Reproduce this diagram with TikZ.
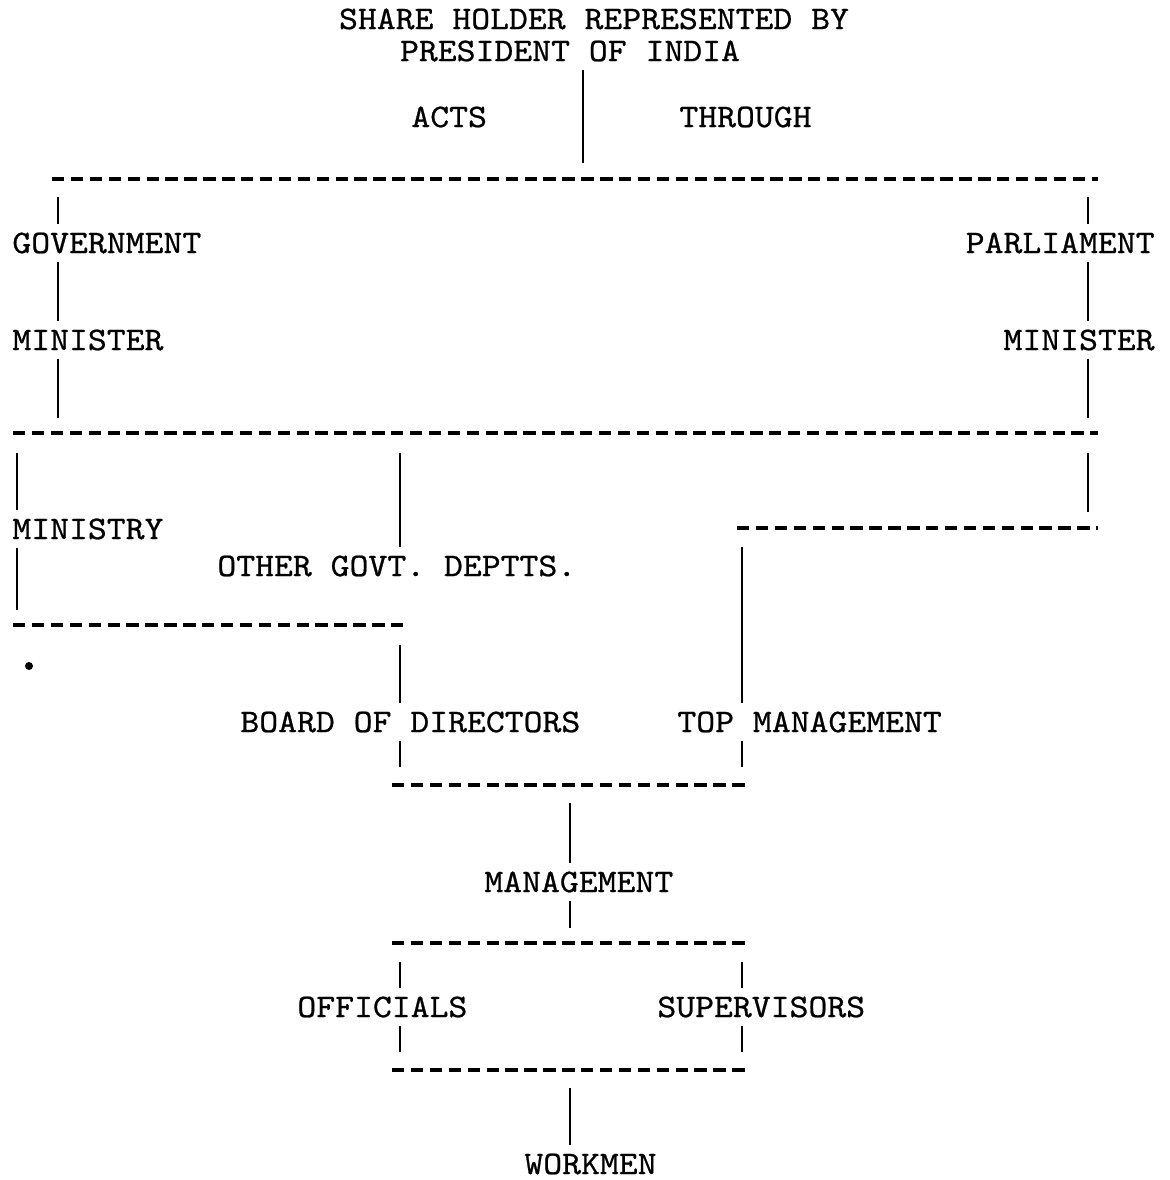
\documentclass[tikz,border=0pt]{standalone}
\usepackage{fontspec}
\newfontfamily\tw{lmmono10-regular.otf}[FakeStretch=1.09,FakeBold=0.7]
\begin{document}
\begin{tikzpicture}[x=0.5pt,y=-0.5pt]
\tikzset{
  lbl/.style={font=\tw\fontsize{16.5pt}{19pt}\selectfont, inner xsep=0pt, inner ysep=4pt},
  bus/.style={line width=2pt, dash pattern=on 6.2pt off 3.25pt},
  tie/.style={line width=1.1pt}
}
\useasboundingbox (0,0) rectangle (1170,1180);
\fill[white] (0,0) rectangle (1170,1180);

% shareholder and the words on either side of the first tie
\node[lbl] (share) at (594,19) {SHARE HOLDER REPRESENTED BY};
\node[lbl] (pres) at (570,51) {PRESIDENT OF INDIA};
\node[lbl,anchor=west] (acts) at (411,117) {ACTS};
\node[lbl,anchor=west] (through) at (679,117) {THROUGH};
\coordinate (tEnd) at (583,163);
\draw[tie] (pres.south -| tEnd) -- (tEnd);

% first bus
\coordinate (b1w) at (52,179);
\coordinate (b1e) at (1098,179);
\draw[bus] (b1w) -- (b1e);

% government branch
\node[lbl,anchor=west] (gov) at (12,243) {GOVERNMENT};
\node[lbl,anchor=west] (minL) at (12,340) {MINISTER};
\coordinate (gA) at (58,197);
\coordinate (gB) at (58,418);
\draw[tie] (gA) -- (gov.north -| gA);
\draw[tie] (gov.south -| gA) -- (minL.north -| gA);
\draw[tie] (minL.south -| gA) -- (gB);

% parliament branch
\node[lbl,anchor=east] (parl) at (1155,243) {PARLIAMENT};
\node[lbl,anchor=east] (minR) at (1155,340) {MINISTER};
\coordinate (pA) at (1088,197);
\coordinate (pB) at (1088,418);
\draw[tie] (pA) -- (parl.north -| pA);
\draw[tie] (parl.south -| pA) -- (minR.north -| pA);
\draw[tie] (minR.south -| pA) -- (pB);

% second bus
\coordinate (b2w) at (13,433);
\coordinate (b2e) at (1098,433);
\draw[bus] (b2w) -- (b2e);

% ministry and other departments
\node[lbl,anchor=west] (ministry) at (12,529) {MINISTRY};
\coordinate (mA) at (17,453);
\coordinate (mB) at (17,610);
\draw[tie] (mA) -- (ministry.north -| mA);
\draw[tie] (ministry.south -| mA) -- (mB);
\node[lbl,anchor=west] (ogd) at (217,566) {OTHER GOVT. DEPTTS.};
\coordinate (oA) at (400,453);
\draw[tie] (oA) -- (ogd.north -| oA);
\coordinate (b3w) at (13,625);
\coordinate (b3e) at (408,625);
\draw[bus] (b3w) -- (b3e);
\fill (29,666) circle (2pt);

% parliament side down to top management
\coordinate (rA) at (1088,453);
\coordinate (rB) at (1088,512);
\draw[tie] (rA) -- (rB);
\coordinate (brw) at (737,528);
\coordinate (bre) at (1098,528);
\draw[bus] (brw) -- (bre);

% board of directors and top management
\node[lbl,anchor=west] (board) at (240,722) {BOARD OF DIRECTORS};
\node[lbl,anchor=west] (topm) at (677,722) {TOP MANAGEMENT};
\coordinate (bdA) at (400,645);
\coordinate (bdB) at (400,767);
\coordinate (tmA) at (742,547);
\coordinate (tmB) at (742,767);
\draw[tie] (bdA) -- (board.north -| bdA);
\draw[tie] (board.south -| bdA) -- (bdB);
\draw[tie] (tmA) -- (topm.north -| tmA);
\draw[tie] (topm.south -| tmA) -- (tmB);
\coordinate (b4w) at (392,785);
\coordinate (b4e) at (748,785);
\draw[bus] (b4w) -- (b4e);

% management
\node[lbl,anchor=west] (mgmt) at (484,882) {MANAGEMENT};
\coordinate (mgA) at (570,803);
\coordinate (mgB) at (570,928);
\draw[tie] (mgA) -- (mgmt.north -| mgA);
\draw[tie] (mgmt.south -| mgA) -- (mgB);
\coordinate (b5w) at (392,943);
\coordinate (b5e) at (748,943);
\draw[bus] (b5w) -- (b5e);

% officials and supervisors
\node[lbl,anchor=west] (off) at (297,1007) {OFFICIALS};
\node[lbl,anchor=west] (sup) at (657,1007) {SUPERVISORS};
\coordinate (ofA) at (400,962);
\coordinate (ofB) at (400,1052);
\coordinate (spA) at (742,962);
\coordinate (spB) at (742,1052);
\draw[tie] (ofA) -- (off.north -| ofA);
\draw[tie] (off.south -| ofA) -- (ofB);
\draw[tie] (spA) -- (sup.north -| spA);
\draw[tie] (sup.south -| spA) -- (spB);
\coordinate (b6w) at (392,1070);
\coordinate (b6e) at (748,1070);
\draw[bus] (b6w) -- (b6e);

% workmen
\node[lbl,anchor=west] (work) at (524,1164) {WORKMEN};
\coordinate (wkA) at (570,1088);
\draw[tie] (wkA) -- (work.north -| wkA);
\end{tikzpicture}
\end{document}
